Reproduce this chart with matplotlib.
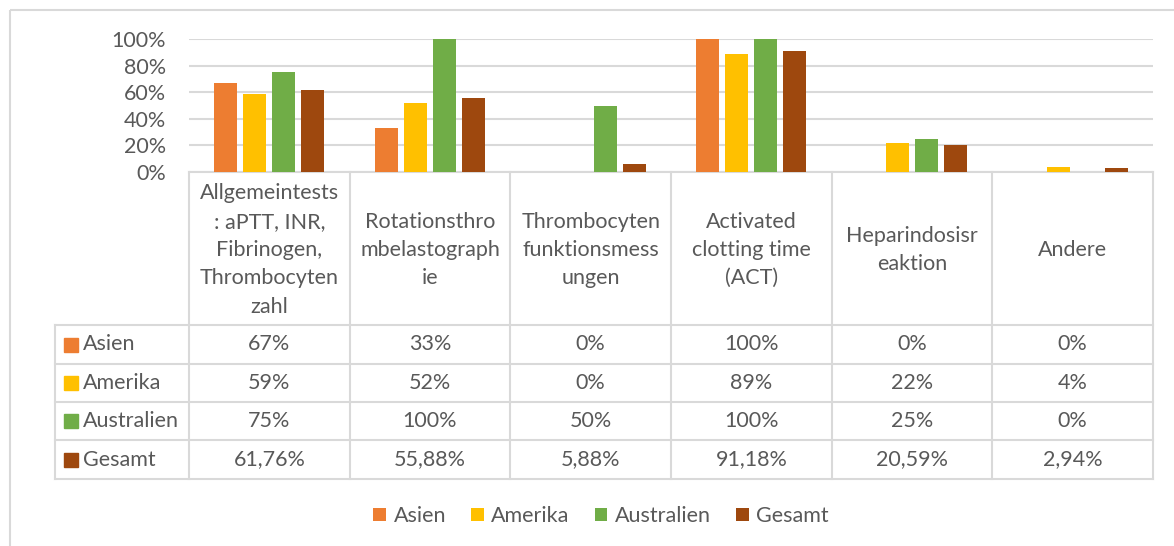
import numpy as np
import matplotlib.pyplot as plt
from matplotlib.patches import Rectangle

plt.rcParams['font.family'] = ['Lato', 'DejaVu Sans']

categories = [
    "Allgemeintests\n: aPTT, INR,\nFibrinogen,\nThrombocyten\nzahl",
    "Rotationsthro\nmbelastograph\nie",
    "Thrombocyten\nfunktionsmess\nungen",
    "Activated\nclotting time\n(ACT)",
    "Heparindosisr\neaktion",
    "Andere",
]
series_names = ["Asien", "Amerika", "Australien", "Gesamt"]
asien = [0.67, 0.33, 0.0, 1.00, 0.0, 0.0]
amerika = [0.59, 0.52, 0.0, 0.89, 0.22, 0.04]
australien = [0.75, 1.00, 0.50, 1.00, 0.25, 0.0]
gesamt = [0.6176, 0.5588, 0.0588, 0.9118, 0.2059, 0.0294]
table_text = [
    ["67%", "33%", "0%", "100%", "0%", "0%"],
    ["59%", "52%", "0%", "89%", "22%", "4%"],
    ["75%", "100%", "50%", "100%", "25%", "0%"],
    ["61,76%", "55,88%", "5,88%", "91,18%", "20,59%", "2,94%"],
]
yticks = [0, 0.2, 0.4, 0.6, 0.8, 1.0]
ytick_labels = ["0%", "20%", "40%", "60%", "80%", "100%"]

colors = ["#ED7D31", "#FFC000", "#70AD47", "#9E480E"]
txt = "#595959"
line = "#D9D9D9"
fs = 15.5
W, H = 1174, 546

fig = plt.figure(figsize=(W / 100, H / 100), dpi=100)

# overlay axes in pixel coordinates for frame and table
ov = fig.add_axes([0, 0, 1, 1])
ov.set_xlim(0, W)
ov.set_ylim(H, 0)
ov.axis("off")

ov.add_patch(Rectangle((10, 10), W, H, fill=False, edgecolor=line, lw=1.5))

# bar axes
x0, x1, ytop, ybot = 189, 1153, 39, 172
ax = fig.add_axes([x0 / W, 1 - ybot / H, (x1 - x0) / W, (ybot - ytop) / H])
ax.set_facecolor("none")
x = np.arange(len(categories))
step, bw = 0.18, 0.143
for i, (vals, name) in enumerate(zip([asien, amerika, australien, gesamt], series_names)):
    ax.bar(x + (i - 1.5) * step, vals, width=bw, color=colors[i], label=name, zorder=3)
ax.set_xlim(-0.5, len(categories) - 0.5)
ax.set_ylim(0, 1)
ax.set_yticks(yticks)
ax.set_yticklabels(ytick_labels, fontsize=fs, color=txt)
ax.tick_params(axis="y", length=0, pad=16.5)
ax.set_xticks([])
for s in ax.spines.values():
    s.set_visible(False)
ax.grid(axis="y", color=line, lw=1.5, zorder=0)

# data table
col_edges = np.linspace(x0, x1, len(categories) + 1)
row_edges = [172, 325, 364, 402, 440, 479]
lbl_left = 55
lk = dict(color=line, lw=1.5)
ov.plot([x0, x1], [row_edges[0]] * 2, **lk)
for r in row_edges[1:]:
    ov.plot([lbl_left, x1], [r, r], **lk)
for c in col_edges:
    ov.plot([c, c], [row_edges[0], row_edges[-1]], **lk)
ov.plot([lbl_left, lbl_left], [row_edges[1], row_edges[-1]], **lk)

for j, cat in enumerate(categories):
    cx = (col_edges[j] + col_edges[j + 1]) / 2
    ov.text(cx, (row_edges[0] + row_edges[1]) / 2 + 1.5, cat, ha="center", va="center",
            fontsize=fs, color=txt, linespacing=1.52)

for i, name in enumerate(series_names):
    cy = (row_edges[i + 1] + row_edges[i + 2]) / 2
    ov.add_patch(Rectangle((64, cy - 7), 14, 14, color=colors[i]))
    ov.text(83, cy, name, ha="left", va="center", fontsize=fs, color=txt)
    for j in range(len(categories)):
        cx = (col_edges[j] + col_edges[j + 1]) / 2
        ov.text(cx, cy, table_text[i][j], ha="center", va="center", fontsize=fs, color=txt)

# legend
handles, labels = ax.get_legend_handles_labels()
fig.legend(handles, labels, loc="center", bbox_to_anchor=(601 / W, 1 - 516 / H), ncol=4,
           frameon=False, fontsize=fs, labelcolor=txt, handlelength=0.6,
           handleheight=0.6, handletextpad=0.35, columnspacing=1.15)

fig.savefig("out.png", dpi=100)
